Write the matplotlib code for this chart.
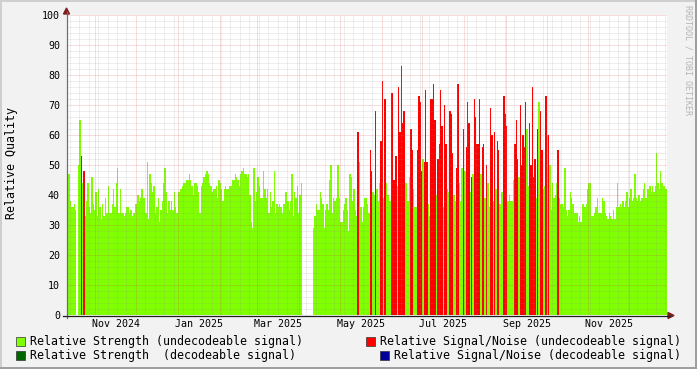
import datetime as dt
import numpy as np
import matplotlib
matplotlib.use('Agg')
import matplotlib.pyplot as plt
import matplotlib.dates as mdates
import pandas as pd
from matplotlib.patches import Rectangle, Polygon
from matplotlib.lines import Line2D

W, H = 697, 369

# ---- daily values, first sample 2024-10-11 ---- #
start = dt.datetime(2024, 10, 11)
nan = np.nan

strength_p1 = [35, 47, 38, 36, 36, 37, 35, nan, 50, 65,
               52, 44, 47, 33, 38, 44, 36, 34, 46, 37,
               35, 41, 33, 42, 36, 32, 37, 33, 39, 34,
               43, 34, 34, 37, 42, 36, 44, 49, 34, 42,
               34, 34, 33, 34, 36, 36, 34, 35, 33, 34,
               37, 37, 40, 38, 39, 42, 39, 39, 34, 51,
               32, 47, 44, 41, 43, 34, 36, 39, 31, 35,
               38, 44, 49, 41, 34, 38, 35, 38, 35, 41,
               36, 34, 41, 41, 42, 43, 44, 44, 45, 45]
strength_p2 = [47, 45, 43, 40, 44, 44, 43, 41, 34, 43,
               44, 46, 47, 48, 47, 44, 43, 41, 42, 42,
               43, 39, 45, 44, 42, 38, 42, 43, 42, 42,
               43, 43, 45, 45, 47, 46, 45, 43, 47, 48,
               49, 47, 47, 46, 47, 40, 31, 29, 49, 38,
               41, 46, 43, 39, 39, 48, 42, 39, 42, 34,
               41, 36, 38, 48, 34, 37, 36, 37, 36, 34,
               37, 41, 41, 38, 35, 38, 47, 33, 41, 39,
               43, 34, 40, 44, nan, nan, nan, nan, nan, nan]
strength_p3 = [nan, nan, 29, 33, 37, 35, 35, 41, 39, 37,
               29, 35, 37, 35, 45, 50, 34, 39, 38, 39,
               50, 39, 31, 31, 35, 37, 39, 35, 28, 47,
               46, 38, 42, 35, 33, 33, 51, 36, 31, 36,
               39, 39, 37, 34, 34, 40, 41, 40, 41, 42,
               38, 44, 47, 40, 39, 40, 44, 40, 38, 38,
               40, 39, 41, 40, 43, 41, 40, 42, 40, 42,
               44, 44, 38, 46, 40, 42, 42, 36, 36, 40,
               40, 40, 40, 52, 40, 40, 40, 37, 33, 40]
strength_p4 = [40, 40, 40, 40, 40, 40, 40, 40, 36, 40,
               40, 42, 41, 40, 40, 40, 40, 38, 40, 40,
               44, 38, 49, 40, 48, 40, 40, 40, 41, 40,
               47, 40, 40, 40, 40, 40, 47, 40, 40, 39,
               40, 44, 36, 40, 40, 38, 40, 42, 40, 37,
               37, 41, 41, 40, 40, 40, 38, 40, 38, 38,
               45, 40, 40, 40, 46, 40, 40, 40, 40, 40,
               62, 43, 40, 40, 40, 40, 40, 39, 40, 71,
               40, 40, 42, 43, 40, 60, 40, 50, 35, 44]
strength_p5 = [39, 40, 44, 40, 39, 37, 37, 36, 49, 35,
               33, 35, 41, 39, 37, 34, 34, 34, 31, 33,
               31, 37, 37, 36, 37, 42, 44, 44, 33, 33,
               34, 36, 39, 34, 34, 34, 39, 38, 34, 33,
               32, 34, 33, 32, 35, 32, 36, 44, 36, 37,
               36, 38, 36, 38, 41, 36, 39, 42, 38, 39,
               47, 39, 38, 40, 38, 39, 42, 44, 39, 42,
               42, 43, 41, 43, 41, 43, 54, 44, 42, 48,
               44, 43, 43, 42]

# signal/noise of undecodeable signal: day index since start, value
snr_days = [10, 12, 215, 224, 225, 228, 232, 233, 235, 240,
            241, 242, 243, 245, 246, 247, 248, 249, 254, 255,
            259, 260, 261, 262, 264, 265, 266, 269, 270, 271,
            272, 274, 275, 276, 277, 279, 280, 283, 284, 285,
            288, 289, 293, 295, 296, 297, 299, 301, 302, 303,
            304, 305, 307, 308, 310, 313, 314, 316, 318, 319,
            323, 324, 325, 331, 332, 333, 335, 336, 337, 338,
            339, 342, 343, 344, 345, 346, 348, 350, 351, 354,
            356, 363]
snr_vals = [53, 48, 61, 55, 48, 68, 58, 78, 72, 74,
            45, 45, 53, 76, 61, 83, 64, 68, 62, 55,
            55, 73, 71, 48, 51, 75, 51, 72, 72, 77,
            65, 52, 57, 75, 63, 70, 57, 68, 67, 54,
            49, 77, 62, 56, 71, 64, 46, 72, 66, 57,
            57, 72, 56, 57, 50, 69, 60, 61, 58, 55,
            73, 67, 63, 57, 65, 52, 70, 50, 60, 56,
            71, 64, 50, 76, 46, 52, 62, 68, 55, 73,
            60, 55]

labels = ['Relative Strength (undecodeable signal)',
          'Relative Strength  (decodeable signal)',
          'Relative Signal/Noise (undecodeable signal)',
          'Relative Signal/Noise (decodeable signal)']
colors = ['#7FFF00', '#006600', '#FF0000', '#000099']

strength = np.array(strength_p1 + strength_p2 + strength_p3 + strength_p4 + strength_p5)

plt.rcParams['font.family'] = 'DejaVu Sans Mono'


def fx(px):
    return px / W


def fy(py):
    return 1 - py / H


t0 = mdates.date2num(start)
t = t0 + np.arange(len(strength))
t_end = t0 + 600 / 1.351

fig = plt.figure(figsize=(W / 100, H / 100), dpi=100, facecolor='#F2F2F2')
ax = fig.add_axes([fx(67), fy(315), 600 / W, 300 / H], facecolor='white')

ok = ~np.isnan(strength)
ax.bar(t[ok], strength[ok], width=1.0, align='edge', color=colors[0], linewidth=0,
       antialiased=False, zorder=2)
ax.bar(t0 + np.array(snr_days), snr_vals, width=1.0, align='edge', color=colors[2],
       linewidth=0, antialiased=False, zorder=3)
ax.set_xlim(t0, t_end)
ax.set_ylim(0, 100)

# ---- grid (dotted, drawn over the data like rrdtool) ---- #
grid_c = (0.56, 0.56, 0.56, 0.35)
mgrid_c = (0.87, 0.31, 0.31, 0.45)
for v in range(2, 100, 2):
    if v % 10:
        ax.axhline(v, color=grid_c, lw=0.6, dashes=(1.2, 1.2), zorder=4)
for v in range(10, 101, 10):
    ax.axhline(v, color=mgrid_c, lw=0.6, dashes=(1.2, 1.2), zorder=4)

month_starts = pd.date_range('2024-11-01', '2025-12-01', freq='MS')
weeks = pd.date_range('2024-10-13', '2025-12-31', freq='W-SUN')
for w in weeks:
    if w not in month_starts:
        ax.axvline(mdates.date2num(w), color=grid_c, lw=0.6, dashes=(1.2, 1.2), zorder=4)
for m in month_starts:
    ax.axvline(mdates.date2num(m), color=mgrid_c, lw=0.6, dashes=(1.2, 1.2), zorder=4)

for m in month_starts[::2]:
    ax.text(mdates.date2num(m) + 15.5, -0.03, m.strftime('%b %Y'), transform=ax.get_xaxis_transform(),
            ha='center', va='center', fontsize=7.2)

ax.set_xticks([])
ax.set_yticks(range(0, 101, 10))
ax.tick_params(axis='y', length=0, pad=5, labelsize=7.2)
for s in ax.spines.values():
    s.set_visible(False)

# ---- axes with arrows ---- #
fig.add_artist(Line2D([fx(66.5), fx(66.5)], [fy(318), fy(12)], color='#6E6E6E', lw=0.9))
fig.add_artist(Line2D([fx(63), fx(670)], [fy(315.5), fy(315.5)], color='#1F1F1F', lw=0.9))
fig.add_artist(Polygon([(fx(63.5), fy(14)), (fx(69.5), fy(14)), (fx(66.5), fy(8))],
                       closed=True, color='#801F1F'))
fig.add_artist(Polygon([(fx(668), fy(312.5)), (fx(668), fy(318.5)), (fx(674), fy(315.5))],
                       closed=True, color='#801F1F'))

fig.text(fx(12), fy(163), 'Relative Quality', rotation=90, ha='center', va='center', fontsize=8.4)
fig.text(fx(688), fy(60), 'RRDTOOL / TOBI OETIKER', rotation=270, ha='center', va='center',
         fontsize=6, color='#B4B4B4')

# ---- legend ---- #
pos = [(16, 341), (16, 355), (366, 341), (380, 355)]
for (lx, ly), lab, c in zip(pos, labels, colors):
    fig.add_artist(Rectangle((fx(lx), fy(ly + 4.5)), 9 / W, 9 / H, facecolor=c,
                             edgecolor='#333333', lw=0.5))
    fig.text(fx(lx + 14), fy(ly), lab, ha='left', va='center', fontsize=8.35)

# ---- frame shading ---- #
fig.add_artist(Rectangle((0, fy(2)), 1, 2 / H, color='#CFCFCF', lw=0))
fig.add_artist(Rectangle((0, 0), 2 / W, 1, color='#CFCFCF', lw=0))
fig.add_artist(Rectangle((0, 0), 1, 2 / H, color='#9E9E9E', lw=0))
fig.add_artist(Rectangle((fx(695), 0), 2 / W, 1, color='#9E9E9E', lw=0))

fig.savefig('out.png', dpi=100, facecolor=fig.get_facecolor())
